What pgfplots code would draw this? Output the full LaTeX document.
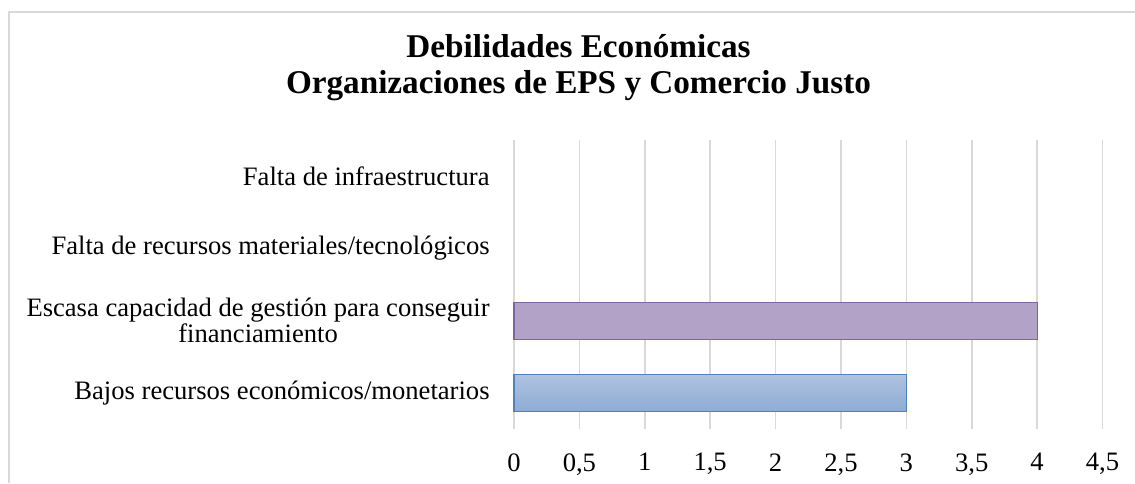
\documentclass[border=0pt]{standalone}
\usepackage{pgfplots}
\pgfplotsset{compat=1.18}
\usepackage{fontspec}
\setmainfont{Liberation Serif}
\definecolor{gridc}{HTML}{D9D9D9}
\definecolor{purfill}{HTML}{B2A2C7}
\definecolor{purdraw}{HTML}{8064A2}
\definecolor{bluetop}{HTML}{AFC2DF}
\definecolor{bluebot}{HTML}{8EACD5}
\definecolor{bluedraw}{HTML}{4F81BD}
\begin{document}
\begin{tikzpicture}
\path[use as bounding box] (0,0) rectangle (567.5pt,241.5pt);
\draw[gridc, line width=0.8pt] (4.5pt,0) -- (4.5pt,235.5pt) -- (567.5pt,235.5pt);
\node[font=\bfseries\fontsize{16.6}{18}\selectfont] at (289.25pt,218.5pt) {Debilidades Económicas};
\node[font=\bfseries\fontsize{16.6}{18}\selectfont] at (289.25pt,198.5pt) {Organizaciones de EPS y Comercio Justo};
\begin{axis}[
  at={(257pt,27pt)}, anchor=south west,
  scale only axis, width=294.25pt, height=144.5pt,
  xmin=0, xmax=4.5, ymin=-0.5, ymax=3.5,
  xtick distance=0.5,
  ytick={0,1,2,3},
  yticklabels={Bajos recursos económicos/monetarios, Escasa capacidad de gestión para conseguir\\financiamiento, Falta de recursos materiales/tecnológicos, Falta de infraestructura},
  axis line style={draw=none},
  xmajorgrids, major grid style={gridc, line width=0.8pt},
  major tick length=0pt,
  /pgf/number format/use comma,
  /pgf/number format/assume math mode=true,
  xticklabel style={font=\fontsize{13.3}{15}\selectfont, anchor=north, inner sep=0pt, yshift=-12pt},
  yticklabel style={font=\fontsize{13.3}{11.3}\selectfont, align=center, anchor=east, inner sep=0pt, xshift=-12pt},
  xbar, bar width=18.5pt, bar shift=0pt,
  clip=false,
]
\addplot[draw=bluedraw, line width=0.6pt, top color=bluetop, bottom color=bluebot] coordinates {(3,0)};
\addplot[draw=purdraw, line width=0.6pt, fill=purfill] coordinates {(4,1)};
\addplot[draw=none, fill=none] coordinates {(0,2) (0,3)};
\end{axis}
\end{tikzpicture}
\end{document}
